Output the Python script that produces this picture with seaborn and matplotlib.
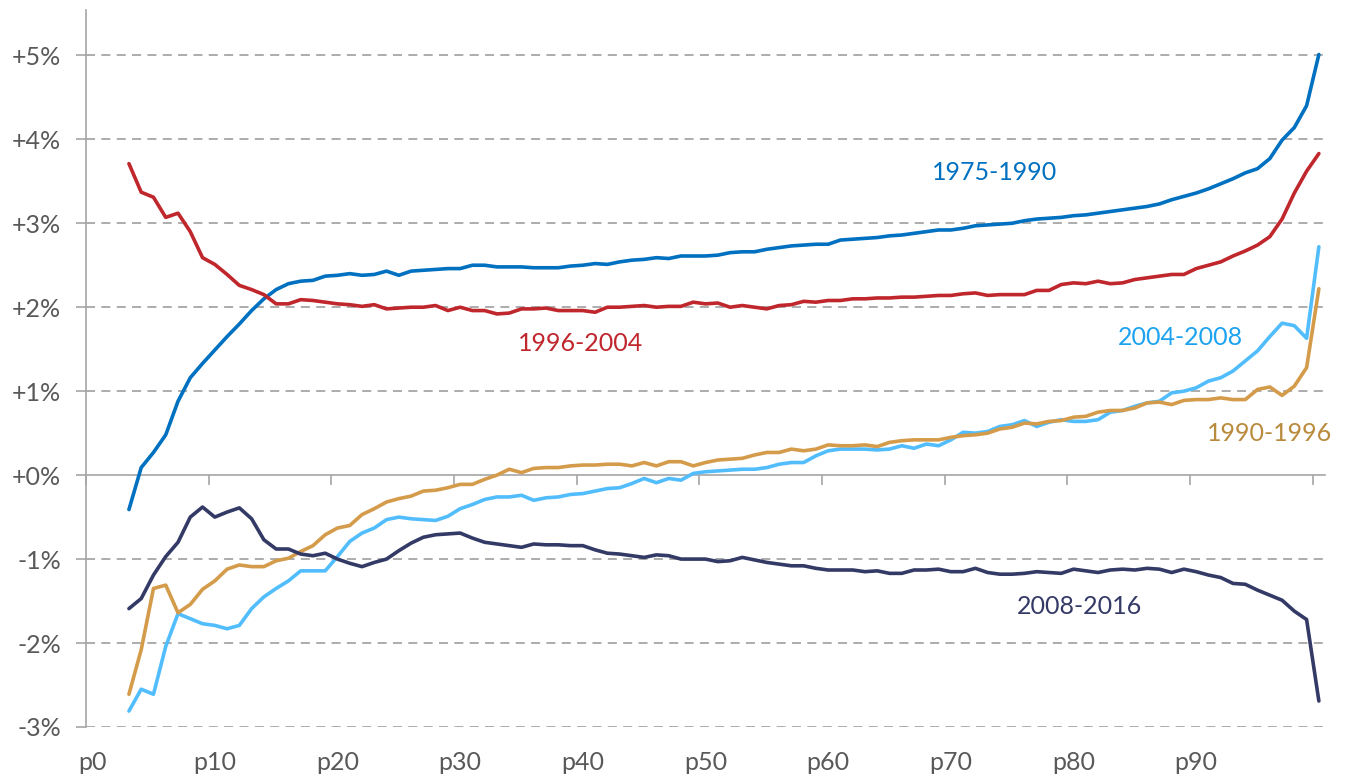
import numpy as np
import pandas as pd
import matplotlib
matplotlib.use('Agg')
import matplotlib.pyplot as plt
import seaborn as sns

# percentile index (p3 .. p100)
pct = list(range(3, 101))

g_1975_1990 = [
    -0.41, 0.09, 0.27, 0.48, 0.88, 1.16, 1.33, 1.49, 1.65, 1.80,
    1.96, 2.10, 2.21, 2.28, 2.31, 2.32, 2.37, 2.38, 2.40, 2.38,
    2.39, 2.43, 2.38, 2.43, 2.44, 2.45, 2.46, 2.46, 2.50, 2.50,
    2.48, 2.48, 2.48, 2.47, 2.47, 2.47, 2.49, 2.50, 2.52, 2.51,
    2.54, 2.56, 2.57, 2.59, 2.58, 2.61, 2.61, 2.61, 2.62, 2.65,
    2.66, 2.66, 2.69, 2.71, 2.73, 2.74, 2.75, 2.75, 2.80, 2.81,
    2.82, 2.83, 2.85, 2.86, 2.88, 2.90, 2.92, 2.92, 2.94, 2.97,
    2.98, 2.99, 3.00, 3.03, 3.05, 3.06, 3.07, 3.09, 3.10, 3.12,
    3.14, 3.16, 3.18, 3.20, 3.23, 3.28, 3.32, 3.36, 3.41, 3.47,
    3.53, 3.60, 3.65, 3.77, 3.99, 4.14, 4.40, 5.01]

g_1996_2004 = [
    3.71, 3.37, 3.31, 3.07, 3.12, 2.90, 2.59, 2.51, 2.39, 2.26,
    2.21, 2.15, 2.04, 2.04, 2.09, 2.08, 2.06, 2.04, 2.03, 2.01,
    2.03, 1.98, 1.99, 2.00, 2.00, 2.02, 1.96, 2.00, 1.96, 1.96,
    1.92, 1.93, 1.98, 1.98, 1.99, 1.96, 1.96, 1.96, 1.94, 2.00,
    2.00, 2.01, 2.02, 2.00, 2.01, 2.01, 2.06, 2.04, 2.05, 2.00,
    2.02, 2.00, 1.98, 2.02, 2.03, 2.07, 2.06, 2.08, 2.08, 2.10,
    2.10, 2.11, 2.11, 2.12, 2.12, 2.13, 2.14, 2.14, 2.16, 2.17,
    2.14, 2.15, 2.15, 2.15, 2.20, 2.20, 2.27, 2.29, 2.28, 2.31,
    2.28, 2.29, 2.33, 2.35, 2.37, 2.39, 2.39, 2.46, 2.50, 2.54,
    2.61, 2.67, 2.74, 2.84, 3.05, 3.36, 3.62, 3.83]

g_2004_2008 = [
    -2.81, -2.55, -2.61, -2.04, -1.65, -1.71, -1.77, -1.79, -1.83, -1.79,
    -1.59, -1.45, -1.35, -1.26, -1.14, -1.14, -1.14, -0.97, -0.79, -0.69,
    -0.63, -0.53, -0.50, -0.52, -0.53, -0.54, -0.49, -0.40, -0.35, -0.29,
    -0.26, -0.26, -0.24, -0.30, -0.27, -0.26, -0.23, -0.22, -0.19, -0.16,
    -0.15, -0.10, -0.04, -0.09, -0.04, -0.06, 0.02, 0.04, 0.05, 0.06,
    0.07, 0.07, 0.09, 0.13, 0.15, 0.15, 0.23, 0.29, 0.31, 0.31,
    0.31, 0.30, 0.31, 0.35, 0.32, 0.37, 0.35, 0.42, 0.51, 0.50,
    0.52, 0.58, 0.60, 0.65, 0.58, 0.63, 0.66, 0.64, 0.64, 0.66,
    0.75, 0.77, 0.82, 0.86, 0.88, 0.98, 1.00, 1.04, 1.12, 1.16,
    1.24, 1.36, 1.48, 1.65, 1.81, 1.78, 1.63, 2.72]

g_1990_1996 = [
    -2.61, -2.08, -1.35, -1.31, -1.64, -1.54, -1.36, -1.26, -1.12, -1.07,
    -1.09, -1.09, -1.02, -0.99, -0.91, -0.84, -0.71, -0.63, -0.60, -0.47,
    -0.40, -0.32, -0.28, -0.25, -0.19, -0.18, -0.15, -0.11, -0.11, -0.05,
    0.00, 0.07, 0.03, 0.08, 0.09, 0.09, 0.11, 0.12, 0.12, 0.13,
    0.13, 0.11, 0.15, 0.11, 0.16, 0.16, 0.11, 0.15, 0.18, 0.19,
    0.20, 0.24, 0.27, 0.27, 0.31, 0.29, 0.31, 0.36, 0.35, 0.35,
    0.36, 0.34, 0.39, 0.41, 0.42, 0.42, 0.42, 0.45, 0.47, 0.48,
    0.50, 0.55, 0.57, 0.62, 0.61, 0.64, 0.65, 0.69, 0.70, 0.75,
    0.77, 0.77, 0.80, 0.86, 0.87, 0.84, 0.89, 0.90, 0.90, 0.92,
    0.90, 0.90, 1.02, 1.05, 0.95, 1.06, 1.28, 2.22]

g_2008_2016 = [
    -1.59, -1.47, -1.19, -0.97, -0.80, -0.50, -0.38, -0.50, -0.44, -0.39,
    -0.52, -0.77, -0.88, -0.88, -0.94, -0.96, -0.93, -1.00, -1.05, -1.09,
    -1.04, -1.00, -0.90, -0.81, -0.74, -0.71, -0.70, -0.69, -0.75, -0.80,
    -0.82, -0.84, -0.86, -0.82, -0.83, -0.83, -0.84, -0.84, -0.89, -0.93,
    -0.94, -0.96, -0.98, -0.95, -0.96, -1.00, -1.00, -1.00, -1.03, -1.02,
    -0.98, -1.01, -1.04, -1.06, -1.08, -1.08, -1.11, -1.13, -1.13, -1.13,
    -1.15, -1.14, -1.17, -1.17, -1.13, -1.13, -1.12, -1.15, -1.15, -1.11,
    -1.16, -1.18, -1.18, -1.17, -1.15, -1.16, -1.17, -1.12, -1.14, -1.16,
    -1.13, -1.12, -1.13, -1.11, -1.12, -1.16, -1.12, -1.15, -1.19, -1.22,
    -1.29, -1.30, -1.37, -1.43, -1.49, -1.62, -1.72, -2.69]

periods = ['1975-1990', '1996-2004', '2004-2008', '1990-1996', '2008-2016']
series = [g_1975_1990, g_1996_2004, g_2004_2008, g_1990_1996, g_2008_2016]
line_colors = ['#0070C0', '#C0272D', '#52BDFD', '#D49B4A', '#343A66']
text_colors = ['#0070C0', '#C0272D', '#1DA2F0', '#B98A3C', '#343A66']
label_pos = [(73.6, 3.61), (39.8, 1.57), (88.7, 1.64), (96.0, 0.50), (80.5, -1.57)]

y_ticks = list(range(-3, 6))
y_labels = ['-3%', '-2%', '-1%', '+0%', '+1%', '+2%', '+3%', '+4%', '+5%']
x_ticks = list(range(0, 91, 10))
x_labels = ['p%d' % v for v in x_ticks]

df = pd.concat([pd.DataFrame({'pct': pct, 'growth': s, 'period': p})
                for p, s in zip(periods, series)])

sns.set_style('white')
plt.rcParams['font.family'] = ['Lato', 'DejaVu Sans']

fig = plt.figure(figsize=(13.49, 7.76), dpi=100)
ax = fig.add_axes([86 / 1349, 1 - 727 / 776, (1325 - 86) / 1349, (727 - 10) / 776])

sns.lineplot(data=df, x='pct', y='growth', hue='period', hue_order=periods,
             palette=dict(zip(periods, line_colors)), linewidth=2.6,
             legend=False, ax=ax, zorder=3)

ax.set_xlim(-0.5, 100.5)
ax.set_ylim(-3, 5.54)
ax.set_xlabel('')
ax.set_ylabel('')

# dashed gridlines
for v in y_ticks:
    if v != 0:
        ax.axhline(v, color='#A6A6A6', lw=1.3, ls=(0, (5, 3.5)), zorder=1)

for side in ['top', 'right']:
    ax.spines[side].set_visible(False)
ax.spines['left'].set_color('#A6A6A6')
ax.spines['left'].set_linewidth(1.2)
ax.spines['bottom'].set_position(('data', 0))
ax.spines['bottom'].set_color('#A6A6A6')
ax.spines['bottom'].set_linewidth(1.2)

ax.set_yticks(y_ticks, y_labels)
ax.tick_params(axis='y', direction='out', length=7, width=1.2, color='#A6A6A6',
               labelsize=18, labelcolor='#595959', pad=11, left=True)

# tick marks on the zero line between categories
ax.set_xticks(np.arange(-0.5, 101, 10), [''] * 11)
ax.tick_params(axis='x', direction='out', length=7, width=1.2, color='#A6A6A6', bottom=True)

sec = ax.secondary_xaxis(0)
sec.set_xticks(x_ticks, x_labels)
sec.tick_params(length=0, labelsize=18, labelcolor='#595959', pad=17)
sec.spines['bottom'].set_visible(False)

for name, (lx, ly), c in zip(periods, label_pos, text_colors):
    ax.text(lx, ly, name, color=c, fontsize=18, ha='center', va='center')

plt.savefig('out.png', dpi=100)
